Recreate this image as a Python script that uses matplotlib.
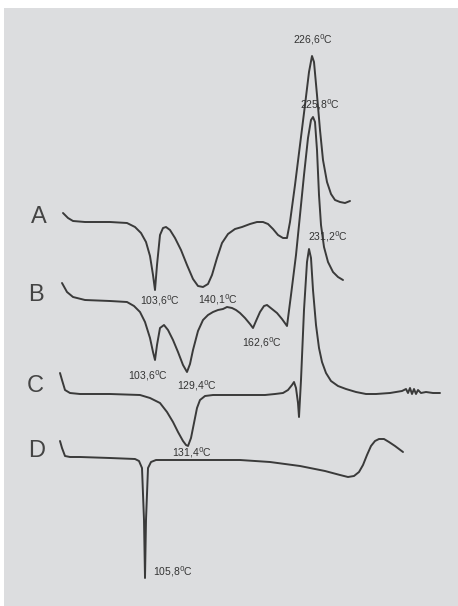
import matplotlib.pyplot as plt

# trace coordinates (image pixel units, y grows downward)
a_x = [63, 68, 73, 85, 110, 127, 135, 141, 146, 150, 153, 155, 157, 160, 163, 166, 170, 175, 181, 187, 193, 198, 203,
       208, 212, 217, 222, 228, 235, 242, 250, 257, 263, 268, 273, 278, 283, 287, 290, 295, 300, 305, 309, 312,
       314, 317, 320, 323, 327, 331, 335, 340, 345, 350]
a_y = [213, 218, 221, 222, 222, 223, 227, 233, 242, 256, 275, 290, 265, 235, 228, 227, 230, 238, 250, 265, 279, 286, 287,
       284, 275, 258, 243, 234, 229, 227, 224, 222, 222, 224, 229, 235, 238, 238, 222, 185, 145, 105, 72, 56,
       62, 95, 130, 160, 182, 194, 200, 202, 203, 201]

b_x = [62, 67, 73, 85, 110, 127, 134, 140, 145, 150, 153, 155, 157, 160, 164, 168, 173, 178, 183, 187, 190, 193, 198,
       203, 208, 213, 218, 223, 227, 232, 236, 240, 245, 250, 253, 256, 260, 264, 267, 272, 277, 282, 287,
       291, 296, 300, 304, 308, 311, 313, 315, 317, 319, 321, 324, 328, 333, 338, 343]
b_y = [283, 292, 297, 300, 301, 302, 306, 312, 322, 338, 352, 360, 345, 328, 325, 330, 340, 352, 365, 372, 364, 350, 331,
       320, 315, 312, 310, 309, 307, 308, 310, 313, 318, 324, 328, 321, 312, 306, 305, 309, 313, 319, 326,
       295, 255, 215, 175, 138, 120, 117, 122, 150, 195, 225, 247, 262, 272, 277, 280]

c_x = [60, 62, 65, 70, 80, 110, 140, 150, 160, 167, 173, 178, 183, 186, 188, 191, 194, 197, 200, 205, 213, 240, 265,
       275, 283, 288, 292, 294, 296, 298, 299, 301, 304, 307, 309, 311, 313, 316, 319, 322, 326, 331, 338,
       346, 356, 366, 376, 390, 402, 406, 408, 410, 412, 414, 416, 418, 421, 426, 433, 440]
c_y = [373, 380, 390, 393, 394, 394, 395, 398, 403, 412, 422, 432, 441, 445, 446, 438, 423, 408, 400, 396, 395, 395, 395,
       394, 393, 390, 385, 382, 388, 403, 417, 380, 310, 262, 249, 258, 290, 325, 348, 362, 373, 381, 386,
       389, 392, 394, 394, 393, 391, 389, 393, 388, 394, 389, 394, 390, 393, 392, 393, 393]

d_x = [60, 62, 65, 70, 80, 110, 135, 139, 142, 144, 145, 146, 148, 151, 156, 170, 200, 240, 270, 300, 325, 340, 348,
       354, 359, 363, 367, 371, 375, 379, 384, 389, 395, 403]
d_y = [441, 448, 456, 457, 457, 458, 459, 461, 468, 520, 578, 520, 468, 462, 460, 460, 460, 460, 462, 466, 471, 475, 477,
       476, 472, 465, 455, 446, 441, 439, 439, 442, 446, 452]

traces = [(a_x, a_y), (b_x, b_y), (c_x, c_y), (d_x, d_y)]

letters = ['A', 'B', 'C', 'D']
letter_pos = [(39, 217), (36, 295), (35, 386), (37, 451)]

peak_labels = ['226,6', '225,8', '231,2', '103,6', '140,1', '162,6', '103,6', '129,4', '131,4', '105,8']
peak_pos = [(313, 40), (320, 105), (328, 237), (160, 301), (218, 300), (262, 343),
            (148, 376), (197, 386), (192, 453), (173, 572)]

fig = plt.figure(figsize=(4.58, 6.06), dpi=100)
ax = fig.add_axes([4 / 458, 0, 454 / 458, 598 / 606])
ax.set_facecolor('#dcdddf')
ax.set_xlim(4, 458)
ax.set_ylim(606, 8)
ax.set_xticks([])
ax.set_yticks([])
for s in ax.spines.values():
    s.set_visible(False)

for x, y in traces:
    ax.plot(x, y, color='#3a3a3a', lw=1.4, solid_joinstyle='round', solid_capstyle='round')

for t, (x, y) in zip(letters, letter_pos):
    ax.text(x, y, t, fontsize=17, color='#444444', ha='center', va='center',
            family=['Liberation Sans', 'DejaVu Sans'])

for t, (x, y) in zip(peak_labels, peak_pos):
    ax.text(x, y, t + '$^{0}$C', fontsize=7.5, color='#333333', ha='center', va='center',
            family=['Liberation Sans', 'DejaVu Sans'])

fig.savefig('out.png', dpi=100, facecolor='white')
